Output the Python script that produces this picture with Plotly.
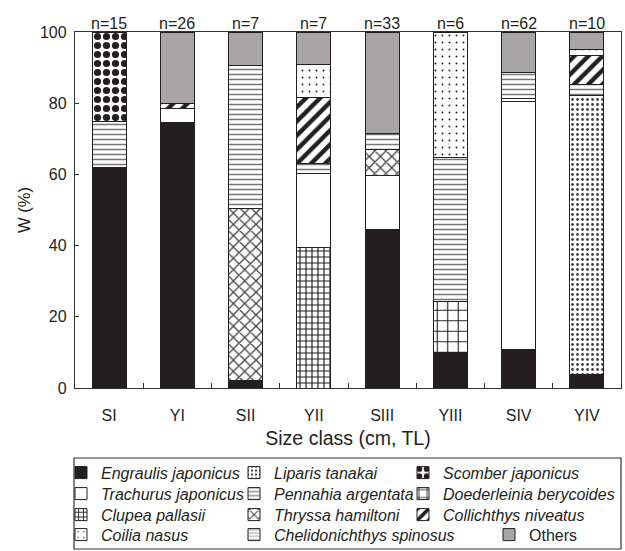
import plotly.graph_objects as go

# ---------------- data ----------------
categories = ["SI", "YI", "SII", "YII", "SIII", "YIII", "SIV", "YIV"]
n_labels = ["n=15", "n=26", "n=7", "n=7", "n=33", "n=6", "n=62", "n=10"]

engraulis = [62.0, 74.5, 2.0, None, 44.4, 10.0, 10.7, 3.7]
clupea = [None, None, None, 39.5, None, None, None, None]
liparis = [None, None, None, None, None, None, None, 78.4]
trachurus = [None, 4.0, None, 20.8, 15.4, None, 69.7, None]
doederleinia = [None, None, None, None, None, 14.3, None, None]
thryssa = [None, None, 48.3, None, 7.3, None, None, None]
chelidonichthys = [None, None, None, None, None, None, 0.9, None]
pennahia = [12.8, None, 40.2, 2.8, 4.4, 40.4, 7.3, 3.2]
collichthys = [None, 1.5, None, 18.4, None, None, None, 8.2]
scomber = [25.2, None, None, None, None, None, None, None]
coilia = [None, None, None, 9.4, None, 35.3, None, 1.7]
others = [None, 20.0, 9.5, 9.1, 28.5, None, 11.4, 4.8]

INK = "#231f20"
FONT = "Liberation Sans, Arial, sans-serif"


def pat(shape, size, solidity, fg):
    return dict(shape=shape, size=size, solidity=solidity, fgcolor=fg,
                bgcolor="white", fgopacity=1)


C1, C2, C3 = 128, 124, 190  # legend column entry widths (px)

# (name, values, color, pattern, legend id, rank, legendwidth)
series = [
    ("<i>Engraulis japonicus</i>", engraulis, INK, None, "legend", 1, C1),
    ("<i>Clupea pallasii</i>", clupea, "white", pat("+", 6, 0.35, INK), "legend3", 1, C1),
    ("<i>Liparis tanakai</i>", liparis, "white", pat(".", 5, 0.25, "#444444"), "legend", 2, C2),
    ("<i>Trachurus japonicus</i>", trachurus, "white", None, "legend2", 1, C1),
    ("<i>Doederleinia berycoides</i>", doederleinia, "white", pat("+", 10.5, 0.2, INK), "legend2", 3, C3),
    ("<i>Thryssa hamiltoni</i>", thryssa, "white", pat("x", 8, 0.3, "#444444"), "legend3", 2, C2),
    ("<i>Chelidonichthys spinosus</i>", chelidonichthys, "white", pat("-", 4, 0.2, "#777777"), "legend4", 2, 210),
    ("<i>Pennahia argentata</i>", pennahia, "white", pat("-", 5, 0.3, "#777777"), "legend2", 2, C2),
    ("<i>Collichthys niveatus</i>", collichthys, "white", pat("/", 10, 0.45, INK), "legend3", 3, C3),
    ("<i>Scomber japonicus</i>", scomber, "white", pat(".", 9, 0.5, INK), "legend", 3, C3),
    ("<i>Coilia nasus</i>", coilia, "white", pat(".", 7, 0.06, INK), "legend4", 1, C1),
    ("Others", others, "#a7a5a5", None, "legend4", 3, 80),
]

fig = go.Figure()
for name, vals, color, pattern, leg, rank, lw in series:
    marker = dict(color=color, line=dict(color=INK, width=1))
    if pattern is not None:
        marker["pattern"] = pattern
    fig.add_trace(go.Bar(
        x=categories, y=vals, name=name, marker=marker, width=0.5,
        legend=leg, legendrank=rank, legendwidth=lw,
    ))

# plot geometry (pixels) -> paper coords
W, H = 625, 551
L, R, T, B = 75, 4, 32, 163
PW, PH = W - L - R, H - T - B


def px_x(p):
    return (p - L) / PW


def px_y(p):
    return (H - B - p) / PH


row_centers = [473, 494, 515, 535]
legend_common = dict(
    orientation="h", xanchor="left", yanchor="top",
    bgcolor="rgba(0,0,0,0)", borderwidth=0,
    font=dict(family=FONT, size=16, color=INK),
    traceorder="normal", itemclick=False, itemdoubleclick=False,
)
legends = {}
for i, key in enumerate(["legend", "legend2", "legend3", "legend4"]):
    legends[key] = dict(legend_common, x=px_x(61), y=px_y(row_centers[i] - 17.3))

annotations = [
    dict(x=c, y=1, xref="x", yref="paper", text=t, showarrow=False,
         yanchor="bottom", yshift=-1.5, font=dict(family=FONT, size=16, color=INK))
    for c, t in zip(categories, n_labels)
]

fig.update_layout(
    width=W, height=H,
    margin=dict(l=L, r=R, t=T, b=B, autoexpand=False),
    barmode="stack",
    paper_bgcolor="white", plot_bgcolor="white",
    font=dict(family=FONT, size=16, color=INK),
    annotations=annotations,
    shapes=[dict(type="rect", xref="paper", yref="paper",
                 x0=px_x(74), x1=px_x(621), y0=px_y(549), y1=px_y(458),
                 line=dict(color="#333333", width=1.2), fillcolor="rgba(0,0,0,0)")],
    **legends,
)

fig.update_xaxes(
    type="category", range=[-0.5, 7.5],
    showline=True, linecolor="#333333", linewidth=1.3, mirror=True,
    ticks="inside", tickson="boundaries", ticklen=5, tickcolor="#333333",
    ticklabelstandoff=13,
    tickfont=dict(family=FONT, size=16, color=INK),
    title=dict(text="Size class (cm, TL)", font=dict(family=FONT, size=19.5, color=INK), standoff=8),
    showgrid=False, zeroline=False,
)
fig.update_yaxes(
    range=[0, 100], tickvals=[0, 20, 40, 60, 80, 100],
    showline=True, linecolor="#333333", linewidth=1.3, mirror=True,
    ticks="inside", ticklen=4, tickcolor="#333333",
    ticklabelstandoff=4,
    tickfont=dict(family=FONT, size=16, color=INK),
    title=dict(text="W (%)", font=dict(family=FONT, size=16.5, color=INK), standoff=5),
    showgrid=False, zeroline=False,
)

fig.write_html("out.html", config={"displayModeBar": False},
               post_script="document.body.style.margin='0';document.body.style.padding='0';")
